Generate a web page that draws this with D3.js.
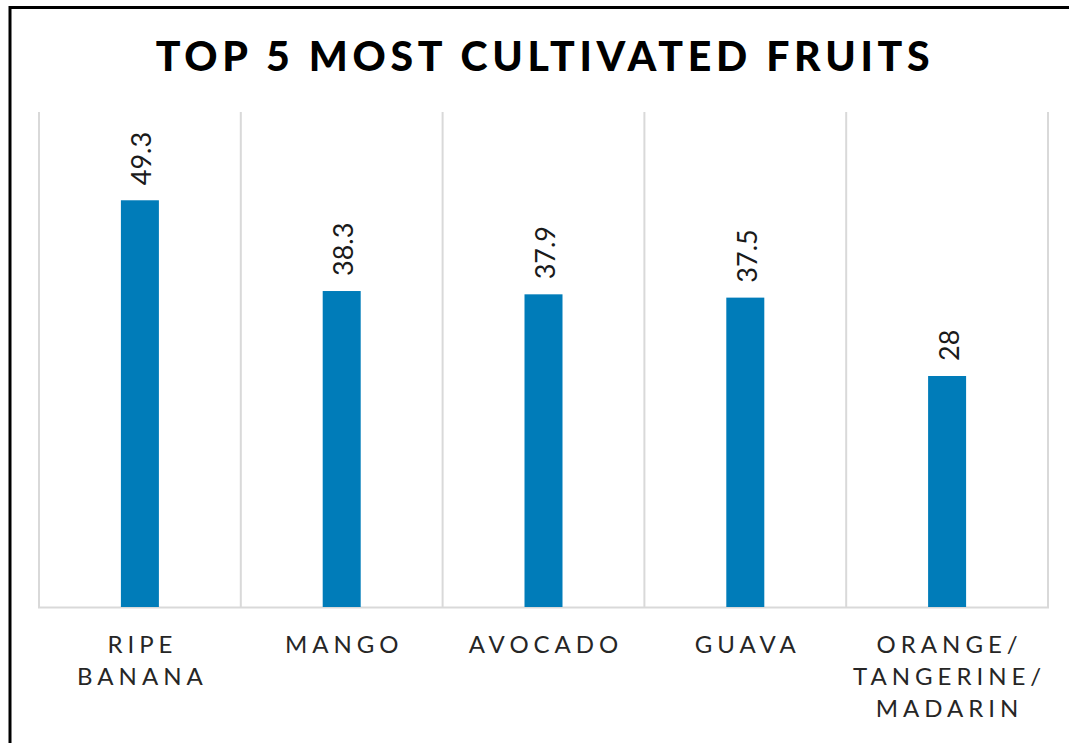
<!DOCTYPE html>
<html>
<head>
<meta charset="utf-8">
<script src="https://cdn.jsdelivr.net/npm/d3@7"></script>
<style>
  html, body { margin: 0; padding: 0; background: #fff; }
  svg { display: block; }
</style>
</head>
<body>
<svg id="chart" width="1069" height="743"></svg>
<script>
// Fruit categories (each entry is the list of label lines) and their values
const categories = ["Ripe Banana", "Mango", "Avocado", "Guava", "Orange/Tangerine/Madarin"];
const categoryLines = [["RIPE", "BANANA"], ["MANGO"], ["AVOCADO"], ["GUAVA"], ["ORANGE/", "TANGERINE/", "MADARIN"]];
const values = [49.3, 38.3, 37.9, 37.5, 28];
const yDomain = [0, 60];
const title = "TOP 5 MOST CULTIVATED FRUITS";

const svg = d3.select("#chart");
const W = 1069, H = 743;
const plot = { left: 39, right: 1048, top: 112, bottom: 607 };

// outer frame
svg.append("rect")
  .attr("x", 10).attr("y", 7.5)
  .attr("width", W + 20).attr("height", H + 20)
  .attr("fill", "#fff").attr("stroke", "#000").attr("stroke-width", 3);

svg.append("text")
  .attr("x", 545).attr("y", 71)
  .attr("text-anchor", "middle")
  .attr("font-family", "Lato, 'Open Sans', sans-serif")
  .attr("font-weight", 900)
  .attr("font-size", 41)
  .attr("letter-spacing", 4.7)
  .attr("fill", "#000")
  .text(title);

const x = d3.scaleBand().domain(categories).range([plot.left, plot.right]).paddingInner(0).paddingOuter(0);
const y = d3.scaleLinear().domain(yDomain).range([plot.bottom, plot.top]);

// vertical separators between categories
const bounds = categories.map(c => x(c)).concat([plot.right]);
svg.append("g").selectAll("line").data(bounds).join("line")
  .attr("x1", d => d).attr("x2", d => d)
  .attr("y1", plot.top).attr("y2", plot.bottom)
  .attr("stroke", "#d9d9d9").attr("stroke-width", 2);

// baseline
svg.append("line")
  .attr("x1", plot.left - 1).attr("x2", plot.right + 1)
  .attr("y1", plot.bottom + 0.5).attr("y2", plot.bottom + 0.5)
  .attr("stroke", "#d9d9d9").attr("stroke-width", 2);

const barW = 38;
const data = categories.map((c, i) => ({ c, v: values[i], lines: categoryLines[i] }));

svg.append("g").selectAll("rect").data(data).join("rect")
  .attr("x", d => x(d.c) + x.bandwidth() / 2 - barW / 2)
  .attr("width", barW)
  .attr("y", d => y(d.v))
  .attr("height", d => y(0) - y(d.v))
  .attr("fill", "#007cb9");

// rotated value labels above each bar
svg.append("g").selectAll("text").data(data).join("text")
  .attr("transform", d => `translate(${x(d.c) + x.bandwidth() / 2 + 1},${y(d.v) - 15}) rotate(-90)`)
  .attr("text-anchor", "start")
  .attr("dominant-baseline", "central")
  .attr("font-family", "Lato, 'Open Sans', sans-serif")
  .attr("font-size", 27)
  .attr("fill", "#1a1a1a")
  .text(d => d.v);

// category labels, one tspan per line
const lab = svg.append("g").selectAll("text").data(data).join("text")
  .attr("text-anchor", "middle")
  .attr("font-family", "Lato, 'Open Sans', sans-serif")
  .attr("font-size", 24)
  .attr("letter-spacing", 5)
  .attr("fill", "#262626");
lab.selectAll("tspan").data(d => d.lines.map(l => ({ l, cx: x(d.c) + x.bandwidth() / 2 }))).join("tspan")
  .attr("x", d => d.cx + 2.5)
  .attr("y", (d, i) => 653 + i * 32)
  .text(d => d.l);
</script>
</body>
</html>
